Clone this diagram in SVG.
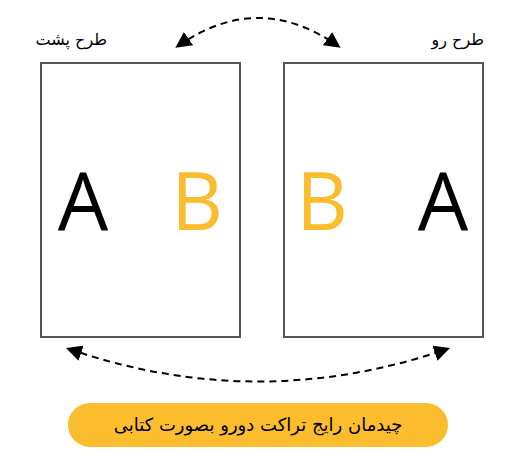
<svg xmlns="http://www.w3.org/2000/svg" width="518" height="462" viewBox="0 0 518 462">
<style>
.page{fill:#fff;stroke:#555;stroke-width:2}
.lbl{font-family:"DejaVu Sans",sans-serif;font-size:16px;fill:#000}
.big{font-family:"Open Sans","Noto Sans",sans-serif;font-size:80px}
.conn{fill:none;stroke:#000;stroke-width:2;stroke-dasharray:7 5}
</style>
<defs>
<marker id="a" viewBox="0 0 10 10" refX="8" refY="5" markerWidth="16" markerHeight="16" orient="auto-start-reverse" markerUnits="userSpaceOnUse">
<path d="M0,0 L10,5 L0,10 z" fill="#000"/>
</marker>
</defs>
<rect width="518" height="462" fill="#fff"/>
<g id="back">
<rect class="page" x="41" y="63" width="199" height="274"/>
<text class="lbl" x="107" y="45" text-anchor="start" direction="rtl">طرح پشت</text>
<text class="big" x="83" y="230" text-anchor="middle" fill="#000">A</text>
<text class="big" x="197" y="230" text-anchor="middle" fill="#FBBC2D">B</text>
</g>
<g id="front">
<rect class="page" x="284" y="63" width="199" height="274"/>
<text class="lbl" x="484" y="45" text-anchor="start" direction="rtl">طرح رو</text>
<text class="big" x="322" y="230" text-anchor="middle" fill="#FBBC2D">B</text>
<text class="big" x="443" y="230" text-anchor="middle" fill="#000">A</text>
</g>
<g id="connectors">
<path class="conn" d="M178,46 Q258,-10 338,46" marker-start="url(#a)" marker-end="url(#a)"/>
<path class="conn" d="M69,349 Q258,414 447,349" marker-start="url(#a)" marker-end="url(#a)"/>
</g>
<g id="caption">
<rect x="68" y="403" width="380" height="44" rx="22" fill="#FBBC2D"/>
<text x="258" y="431" text-anchor="middle" direction="rtl" font-family="DejaVu Sans,sans-serif" font-size="18" fill="#000">چیدمان رایج تراکت دورو بصورت کتابی</text>
</g>
</svg>
